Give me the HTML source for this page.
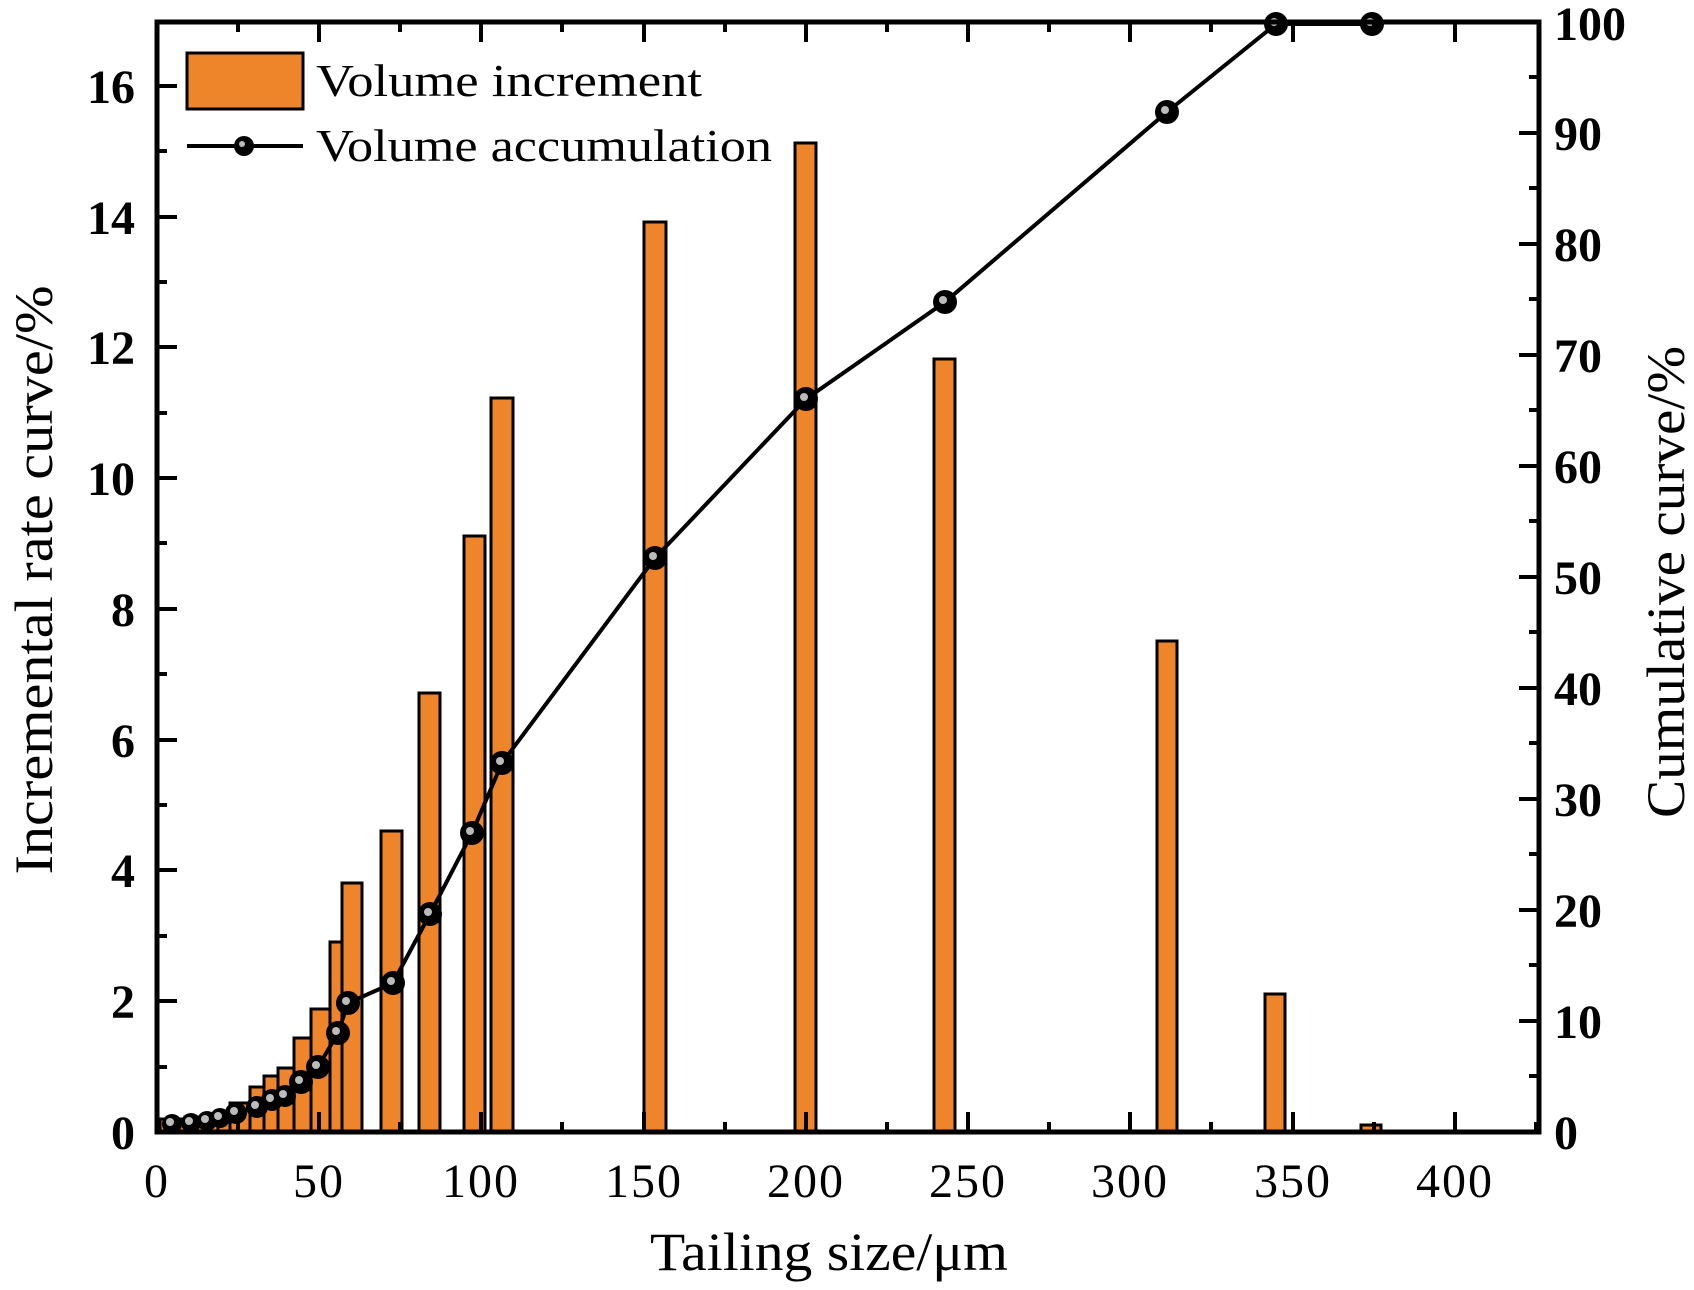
<!DOCTYPE html>
<html><head><meta charset="utf-8"><style>
html,body{margin:0;padding:0;background:#fff;}
svg{display:block;font-family:"Liberation Serif",serif;}
</style></head><body>
<svg width="1694" height="1290" viewBox="0 0 1694 1290" xmlns="http://www.w3.org/2000/svg">
<g fill="#ee852b" stroke="#000" stroke-width="3">
<rect x="160" y="1119" width="25" height="13"/>
<rect x="185" y="1117" width="20" height="15"/>
<rect x="205" y="1115" width="13" height="17"/>
<rect x="218" y="1113" width="12" height="19"/>
<rect x="230" y="1103" width="20" height="29"/>
<rect x="250" y="1087" width="14" height="45"/>
<rect x="264" y="1076" width="14" height="56"/>
<rect x="278" y="1068" width="16" height="64"/>
<rect x="294" y="1038" width="17" height="94"/>
<rect x="311" y="1009" width="19" height="123"/>
<rect x="330" y="942" width="12" height="190"/>
<rect x="342" y="883" width="20" height="249"/>
<rect x="381" y="831" width="21" height="301"/>
<rect x="419" y="693" width="21" height="439"/>
<rect x="464" y="536" width="21" height="596"/>
<rect x="491" y="398" width="22" height="734"/>
<rect x="644" y="222" width="22" height="910"/>
<rect x="795" y="143" width="21" height="989"/>
<rect x="934" y="359" width="21" height="773"/>
<rect x="1157" y="641" width="20" height="491"/>
<rect x="1265" y="994" width="20" height="138"/>
<rect x="1361" y="1125" width="20" height="7"/>
</g>
<polyline fill="none" stroke="#000" stroke-width="4" points="172,1124 191,1123 207,1121 220,1118 236,1113 257,1107 272,1100 285,1096 301,1082 318,1067 338,1033 348,1003 393,983 430,914 472,833 502,763 655,558 806,399 945,302 1167,112 1276,24 1372,24"/>
<g>
<g fill="#000">
<circle cx="172" cy="1124" r="10"/><circle cx="191" cy="1123" r="10"/><circle cx="207" cy="1121" r="10"/><circle cx="220" cy="1118" r="10"/><circle cx="236" cy="1113" r="11"/><circle cx="257" cy="1107" r="11"/><circle cx="272" cy="1100" r="11"/><circle cx="285" cy="1096" r="11"/><circle cx="301" cy="1082" r="12"/><circle cx="318" cy="1067" r="12"/><circle cx="338" cy="1033" r="12"/><circle cx="348" cy="1003" r="12"/><circle cx="393" cy="983" r="12"/><circle cx="430" cy="914" r="12"/><circle cx="472" cy="833" r="12"/><circle cx="502" cy="763" r="12"/><circle cx="655" cy="558" r="12"/><circle cx="806" cy="399" r="12"/><circle cx="945" cy="302" r="12"/><circle cx="1167" cy="112" r="12"/><circle cx="1276" cy="24" r="12"/><circle cx="1372" cy="24" r="12"/>
</g>
<g fill="#bbb">
<circle cx="170" cy="1122" r="4"/><circle cx="189" cy="1121" r="4"/><circle cx="205" cy="1119" r="4"/><circle cx="218" cy="1116" r="4"/><circle cx="234" cy="1111" r="4"/><circle cx="255" cy="1105" r="4"/><circle cx="270" cy="1098" r="4"/><circle cx="283" cy="1094" r="4"/><circle cx="299" cy="1080" r="4"/><circle cx="316" cy="1065" r="4"/><circle cx="336" cy="1031" r="4"/><circle cx="346" cy="1001" r="4"/><circle cx="391" cy="981" r="4"/><circle cx="428" cy="912" r="4"/><circle cx="470" cy="831" r="4"/><circle cx="500" cy="761" r="4"/><circle cx="653" cy="556" r="4"/><circle cx="804" cy="397" r="4"/><circle cx="943" cy="300" r="4"/><circle cx="1165" cy="110" r="4"/><circle cx="1274" cy="22" r="4"/><circle cx="1370" cy="22" r="4"/>
</g>
</g>
<rect x="157" y="22" width="1382" height="1110" fill="none" stroke="#000" stroke-width="5"/>
<g stroke="#000" stroke-width="4">
<path d="M157 1001H177M157 870H177M157 740H177M157 609H177M157 478H177M157 347H177M157 217H177M157 86H177"/>
<path d="M157 1067H167M157 936H167M157 805H167M157 674H167M157 543H167M157 413H167M157 282H167M157 151H167"/>
<path d="M1539 1021H1519M1539 910H1519M1539 799H1519M1539 688H1519M1539 577H1519M1539 466H1519M1539 355H1519M1539 244H1519M1539 133H1519"/>
<path d="M1539 1076H1529M1539 965H1529M1539 854H1529M1539 743H1529M1539 632H1529M1539 521H1529M1539 410H1529M1539 299H1529M1539 188H1529M1539 77H1529"/>
<path d="M319 1132V1112M481 1132V1112M644 1132V1112M806 1132V1112M968 1132V1112M1130 1132V1112M1293 1132V1112M1455 1132V1112"/>
<path d="M238 1132V1122M400 1132V1122M562 1132V1122M725 1132V1122M887 1132V1122M1049 1132V1122M1211 1132V1122M1374 1132V1122M1536 1132V1122"/>
<path d="M319 22V42M481 22V42M644 22V42M806 22V42M968 22V42M1130 22V42M1293 22V42M1455 22V42"/>
<path d="M238 22V32M400 22V32M562 22V32M725 22V32M887 22V32M1049 22V32M1211 22V32M1374 22V32"/>
</g>
<g font-size="48" font-weight="bold" text-anchor="end">
<text x="135" y="1149">0</text><text x="135" y="1018">2</text><text x="135" y="887">4</text><text x="135" y="757">6</text><text x="135" y="626">8</text><text x="135" y="495">10</text><text x="135" y="364">12</text><text x="135" y="234">14</text><text x="135" y="103">16</text>
</g>
<g font-size="48" font-weight="bold">
<text x="1554" y="1149">0</text><text x="1554" y="1038">10</text><text x="1554" y="927">20</text><text x="1554" y="816">30</text><text x="1554" y="705">40</text><text x="1554" y="594">50</text><text x="1554" y="483">60</text><text x="1554" y="372">70</text><text x="1554" y="261">80</text><text x="1554" y="150">90</text><text x="1554" y="40">100</text>
</g>
<g font-size="48" text-anchor="middle" letter-spacing="2">
<text x="157" y="1197">0</text><text x="319" y="1197">50</text><text x="481" y="1197">100</text><text x="644" y="1197">150</text><text x="806" y="1197">200</text><text x="968" y="1197">250</text><text x="1130" y="1197">300</text><text x="1293" y="1197">350</text><text x="1455" y="1197">400</text>
</g>
<text x="650" y="1270" font-size="54" textLength="358" lengthAdjust="spacingAndGlyphs">Tailing size/μm</text>
<text transform="translate(52,580) rotate(-90)" font-size="54" text-anchor="middle" textLength="589" lengthAdjust="spacingAndGlyphs">Incremental rate curve/%</text>
<text transform="translate(1684,582) rotate(-90)" font-size="54" text-anchor="middle" textLength="472" lengthAdjust="spacingAndGlyphs">Cumulative curve/%</text>
<rect x="187" y="53" width="116" height="56" fill="#ee852b" stroke="#000" stroke-width="3"/>
<text x="316" y="96" font-size="46" textLength="386" lengthAdjust="spacingAndGlyphs">Volume increment</text>
<line x1="187" y1="146" x2="303" y2="146" stroke="#000" stroke-width="4"/>
<circle cx="244" cy="146" r="10" fill="#000"/><circle cx="242" cy="144" r="3" fill="#bbb"/>
<text x="316" y="161" font-size="46" textLength="456" lengthAdjust="spacingAndGlyphs">Volume accumulation</text>
</svg>
</body></html>
